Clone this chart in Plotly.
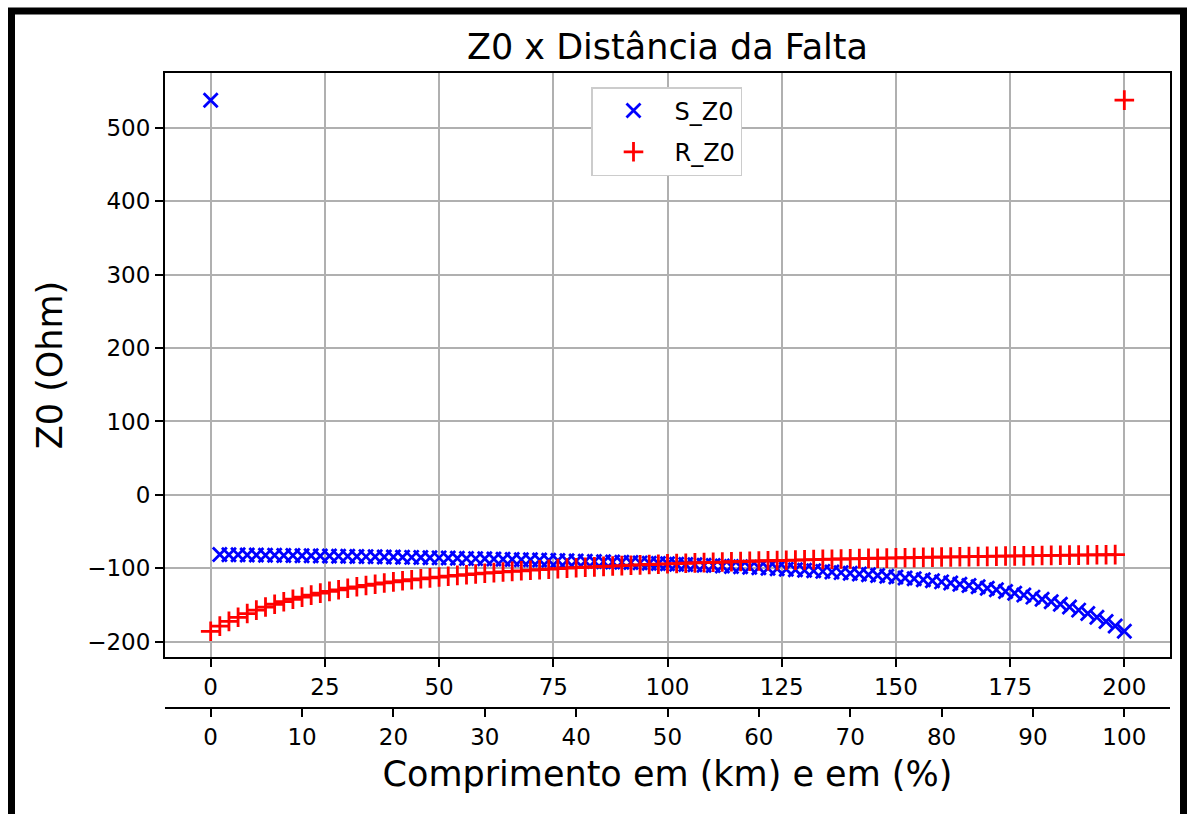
import plotly.graph_objects as go

# Distance along the line (km) and the same positions in percent
km = list(range(0, 201, 2))
pct = [k / 2 for k in km]

# Z0 seen from terminal S (Ohm)
s_z0 = [538.0,
        -81.4, -81.6, -81.7, -81.9, -82.1, -82.2, -82.4, -82.5, -82.7, -82.9,
        -83.1, -83.2, -83.4, -83.6, -83.8, -84.0, -84.2, -84.4, -84.6, -84.8,
        -85.0, -85.2, -85.5, -85.7, -85.9, -86.2, -86.4, -86.6, -86.9, -87.2,
        -87.4, -87.7, -88.0, -88.3, -88.6, -88.9, -89.2, -89.5, -89.8, -90.1,
        -90.5, -90.8, -91.2, -91.6, -91.9, -92.3, -92.7, -93.2, -93.6, -94.0,
        -94.5, -94.9, -95.4, -95.9, -96.4, -97.0, -97.5, -98.1, -98.7, -99.3,
        -99.9, -100.6, -101.3, -102.0, -102.7, -103.5, -104.3, -105.1, -106.0, -106.8,
        -107.8, -108.8, -109.8, -110.9, -112.0, -113.2, -114.4, -115.7, -117.1, -118.6,
        -120.1, -121.8, -123.5, -125.3, -127.3, -129.4, -131.6, -134.0, -136.6, -139.4,
        -142.3, -145.6, -149.1, -152.9, -157.1, -161.8, -166.9, -172.5, -178.9, -186.0]

# Z0 seen from terminal R (Ohm)
r_z0 = [-186.0, -178.9, -172.5, -166.9, -161.8, -157.1, -152.9, -149.1, -145.6, -142.3,
        -139.4, -136.6, -134.0, -131.6, -129.4, -127.3, -125.3, -123.5, -121.8, -120.1,
        -118.6, -117.1, -115.7, -114.4, -113.2, -112.0, -110.9, -109.8, -108.8, -107.8,
        -106.8, -106.0, -105.1, -104.3, -103.5, -102.7, -102.0, -101.3, -100.6, -99.9,
        -99.3, -98.7, -98.1, -97.5, -97.0, -96.4, -95.9, -95.4, -94.9, -94.5,
        -94.0, -93.6, -93.2, -92.7, -92.3, -91.9, -91.6, -91.2, -90.8, -90.5,
        -90.1, -89.8, -89.5, -89.2, -88.9, -88.6, -88.3, -88.0, -87.7, -87.4,
        -87.2, -86.9, -86.6, -86.4, -86.2, -85.9, -85.7, -85.5, -85.2, -85.0,
        -84.8, -84.6, -84.4, -84.2, -84.0, -83.8, -83.6, -83.4, -83.2, -83.1,
        -82.9, -82.7, -82.5, -82.4, -82.2, -82.1, -81.9, -81.7, -81.6, -81.4,
        538.0]

km_ticks = [0, 25, 50, 75, 100, 125, 150, 175, 200]
pct_ticks = [0, 10, 20, 30, 40, 50, 60, 70, 80, 90, 100]
y_ticks = [-200, -100, 0, 100, 200, 300, 400, 500]

FONT = "DejaVu Sans"
GRID = "#b0b0b0"

fig = go.Figure()
fig.add_trace(go.Scatter(
    x=km, y=s_z0, mode="markers", name="S_Z0", legendgroup="s",
    marker=dict(symbol="x-thin-open", size=14, color="blue",
                line=dict(width=2.8, color="blue")),
))
fig.add_trace(go.Scatter(
    x=km, y=r_z0, mode="markers", name="R_Z0", legendgroup="r",
    marker=dict(symbol="cross-thin-open", size=14, color="red",
                line=dict(width=2.8, color="red")),
))
# invisible trace tying the percent axis to the data
fig.add_trace(go.Scatter(
    x=pct, y=s_z0, mode="markers", xaxis="x2", yaxis="y",
    marker=dict(opacity=0), showlegend=False, hoverinfo="skip",
))

axis_common = dict(
    showline=True, linecolor="black", linewidth=2,
    ticks="outside", ticklen=8, tickwidth=2, tickcolor="black",
    tickfont=dict(family=FONT, size=23, color="black"),
    zeroline=False,
)

fig.update_layout(
    width=1192, height=814,
    margin=dict(l=165, r=22, t=73, b=106, pad=0),
    paper_bgcolor="white", plot_bgcolor="white",
    font=dict(family=FONT, color="black"),
    title=dict(text="Z0 x Distância da Falta", x=0.5, xref="paper",
               xanchor="center", y=1 - 47 / 814, yanchor="middle",
               font=dict(family=FONT, size=35, color="black")),
    xaxis=dict(range=[-10, 210], tickvals=km_ticks, anchor="y",
               mirror=True, showgrid=True, gridcolor=GRID, gridwidth=1.6,
               **axis_common),
    xaxis2=dict(range=[-5, 105], tickvals=pct_ticks, overlaying="x",
                anchor="free", position=0, side="bottom", showgrid=False,
                title=dict(text="Comprimento em (km) e em (%)", standoff=12,
                           font=dict(family=FONT, size=35, color="black")),
                **axis_common),
    yaxis=dict(range=[-221, 575], tickvals=y_ticks, domain=[(708 - 657) / 635, 1],
               mirror=True, showgrid=True, gridcolor=GRID, gridwidth=1.6,
               title=dict(text="Z0 (Ohm)", standoff=14,
                          font=dict(family=FONT, size=35, color="black")),
               **axis_common),
    legend=dict(x=(591 - 165) / 1005, y=(708 - 87) / 635, xanchor="left", yanchor="top",
                bgcolor="white", bordercolor="#cccccc", borderwidth=1.5,
                font=dict(family=FONT, size=24, color="black"),
                itemwidth=72, tracegroupgap=7),
    showlegend=True,
)

# outer black frame of the figure
fig.add_shape(type="rect", xref="paper", yref="paper",
              x0=(11.5 - 165) / 1005, x1=(1183.5 - 165) / 1005,
              y0=(708 - 840) / 635, y1=(708 - 11) / 635,
              line=dict(color="black", width=7), fillcolor="rgba(0,0,0,0)",
              layer="above")

fig.write_html("out.html")
